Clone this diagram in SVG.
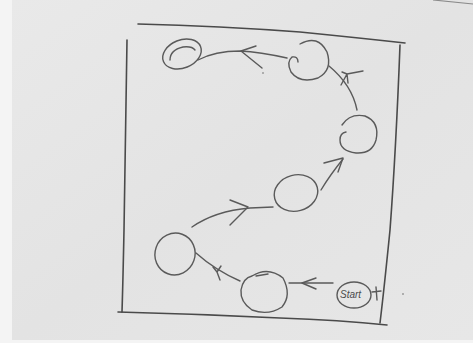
<svg xmlns="http://www.w3.org/2000/svg" width="473" height="343" viewBox="0 0 473 343">
<defs>
<style>
.p{fill:none;stroke:#5a5a5a;stroke-width:1.4;stroke-linecap:round;stroke-linejoin:round}
.f{fill:none;stroke:#4a4a4a;stroke-width:1.6;stroke-linecap:round}
.t{font-family:"Liberation Sans",Arial,sans-serif;font-size:10px;fill:#4a4a4a;font-style:italic}
</style>
<linearGradient id="paper" x1="0" y1="0" x2="1" y2="1">
<stop offset="0" stop-color="#e9e9e9"/>
<stop offset="0.5" stop-color="#e3e3e3"/>
<stop offset="1" stop-color="#e7e7e7"/>
</linearGradient>
</defs>
<rect width="473" height="343" fill="#f4f4f4"/>
<rect x="12" y="0" width="461" height="340" fill="url(#paper)"/>
<path d="M433 0 L473 4" stroke="#8a8a8a" stroke-width="1.2" fill="none"/>
<g id="frame">
<path class="f" d="M138 24 Q220 26 300 32 Q360 38 405 43"/>
<path class="f" d="M127 40 Q125 150 124 230 Q123 280 122 312"/>
<path class="f" d="M118 312 Q200 314 280 318 Q340 320 387 325"/>
<path class="f" d="M400 45 Q396 150 390 230 Q384 290 380 323"/>
</g>
<g id="connectors">
<path class="p" d="M333 283 L289 283"/>
<path class="p" d="M316 278 L302 283 L316 289"/>
<path class="p" d="M240 281 Q215 270 196 253"/>
<path class="p" d="M213 267 L217 272 L221 266 M217 272 L220 280"/>
<path class="p" d="M192 227 Q215 211 250 208 L273 207"/>
<path class="p" d="M230 200 L248 207 L230 225"/>
<path class="p" d="M321 190 Q330 175 343 159"/>
<path class="p" d="M324 163 L343 158 L338 172"/>
<path class="p" d="M357 110 Q352 85 329 66"/>
<path class="p" d="M341 85 L347 74 M347 74 L363 71 M342 72 L347 74 L348 83"/>
<path class="p" d="M287 58 Q260 52 240 51 Q215 51 198 60"/>
<path class="p" d="M256 46 L241 51 L262 68"/>
</g>
<g id="node-end">
<ellipse class="p" cx="182" cy="54" rx="20" ry="14" transform="rotate(-22 182 54)"/>
<path class="p" d="M170 60 Q170 50 183 47 Q192 46 195 50"/>
</g>
<g id="node-2">
<path class="p" d="M300 44 Q318 34 327 52 Q333 70 318 78 Q300 84 291 72 Q286 62 292 57 Q298 56 298 62"/>
</g>
<g id="node-3">
<path class="p" d="M342 125 Q350 113 365 116 Q380 122 376 140 Q372 154 356 153 Q340 151 340 140 Q340 133 346 132"/>
</g>
<g id="node-4">
<ellipse class="p" cx="296" cy="193" rx="22" ry="18" transform="rotate(-15 296 193)"/>
</g>
<g id="node-5">
<ellipse class="p" cx="175" cy="254" rx="20" ry="21" transform="rotate(20 175 254)"/>
</g>
<g id="node-6">
<path class="p" d="M252 276 Q268 266 283 278 Q292 295 282 307 Q268 316 252 310 Q240 302 241 290 Q243 278 252 276"/>
<path class="p" d="M256 276 L268 274"/>
</g>
<g id="node-start">
<ellipse class="p" cx="354" cy="295" rx="17" ry="13"/>
<text class="t" x="340" y="298">Start</text>
<path class="p" d="M372 292 L381 291 M376 287 L377 300"/>
</g>
<circle cx="403" cy="294" r="0.8" fill="#666"/>
<circle cx="263" cy="73" r="0.8" fill="#666"/>
</svg>
